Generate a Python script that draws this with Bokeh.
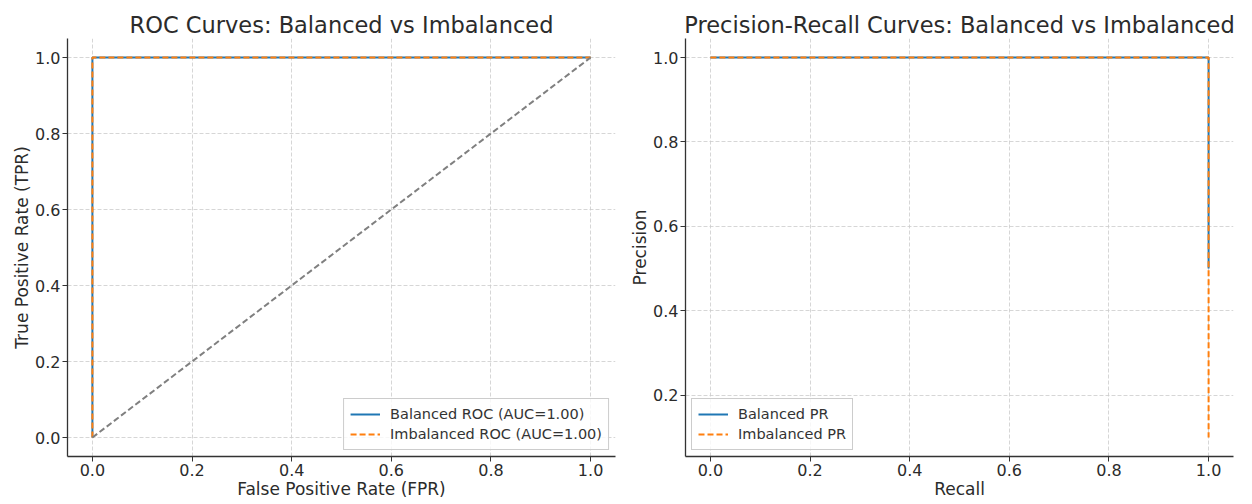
from bokeh.plotting import figure
from bokeh.layouts import row
from bokeh.models import FixedTicker, NumeralTickFormatter, Legend, LegendItem, Range1d
from bokeh.embed import file_html
from bokeh.resources import INLINE

# ROC data
roc_bal_fpr = [0.0, 0.0, 1.0]
roc_bal_tpr = [0.0, 1.0, 1.0]
roc_imb_fpr = [0.0, 0.0, 1.0]
roc_imb_tpr = [0.0, 1.0, 1.0]
diag_x = [0.0, 1.0]
diag_y = [0.0, 1.0]

# PR data
pr_bal_recall = [0.0, 1.0, 1.0]
pr_bal_precision = [1.0, 1.0, 0.5]
pr_imb_recall = [0.0, 1.0, 1.0]
pr_imb_precision = [1.0, 1.0, 0.1]

ticks_x = [0.0, 0.2, 0.4, 0.6, 0.8, 1.0]
ticks_y_roc = [0.0, 0.2, 0.4, 0.6, 0.8, 1.0]
ticks_y_pr = [0.2, 0.4, 0.6, 0.8, 1.0]

FONT = "DejaVu Sans"
BLUE = "#1f77b4"
ORANGE = "#ff7f0e"
TXT = "#2b2b2b"


def make_fig(title, xlabel, ylabel, yr, yticks, width, right_border):
    p = figure(width=width, height=501, output_backend="svg", toolbar_location=None,
               x_range=Range1d(-0.05, 1.05), y_range=Range1d(*yr),
               min_border_left=67, min_border_right=right_border,
               min_border_top=38, min_border_bottom=43)
    p.title.text = title
    p.title.align = "center"
    p.title.text_font = FONT
    p.title.text_font_size = "22.5px"
    p.title.text_font_style = "normal"
    p.title.text_color = TXT
    p.title.offset = 0
    p.title.standoff = 2
    p.title.text_line_height = 1.0
    p.outline_line_color = None
    for ax, lab, ticks in ((p.xaxis[0], xlabel, ticks_x), (p.yaxis[0], ylabel, yticks)):
        ax.ticker = FixedTicker(ticks=ticks)
        ax.formatter = NumeralTickFormatter(format="0.0")
        ax.axis_label = lab
        ax.axis_label_text_font = FONT
        ax.axis_label_text_font_size = "17px"
        ax.axis_label_text_font_style = "normal"
        ax.axis_label_text_color = TXT
        ax.axis_label_text_line_height = 1.0
        ax.axis_label_standoff = 0
        ax.major_label_text_font = FONT
        ax.major_label_text_font_size = "16px"
        ax.major_label_text_color = TXT
        ax.major_label_text_line_height = 1.0
        ax.major_label_standoff = 2
        ax.minor_tick_line_color = None
        ax.major_tick_out = 5
        ax.major_tick_in = 0
        ax.axis_line_color = "#333333"
        ax.axis_line_width = 1.3
        ax.major_tick_line_color = "#333333"
    for g in (p.xgrid[0], p.ygrid[0]):
        g.ticker = FixedTicker(ticks=ticks_x if g.dimension == 0 else yticks)
        g.grid_line_color = "#cccccc"
        g.grid_line_dash = "4 2"
        g.grid_line_width = 0.8
    return p


p1 = make_fig("ROC Curves: Balanced vs Imbalanced", "False Positive Rate (FPR)",
              "True Positive Rate (TPR)", (-0.05, 1.05), ticks_y_roc, 618, 3)
r1 = p1.line(roc_bal_fpr, roc_bal_tpr, line_color=BLUE, line_width=2)
r2 = p1.line(roc_imb_fpr, roc_imb_tpr, line_color=ORANGE, line_width=2, line_dash="6 3")
p1.line(diag_x, diag_y, line_color="gray", line_width=2, line_dash="6 3")

p2 = make_fig("Precision-Recall Curves: Balanced vs Imbalanced", "Recall",
              "Precision", (0.055, 1.045), ticks_y_pr, 626, 11)
r3 = p2.line(pr_bal_recall, pr_bal_precision, line_color=BLUE, line_width=2)
r4 = p2.line(pr_imb_recall, pr_imb_precision, line_color=ORANGE, line_width=2, line_dash="6 3")


def add_legend(p, items, loc):
    lg = Legend(items=[LegendItem(label=l, renderers=[r]) for l, r in items], location=loc)
    lg.label_text_font = FONT
    lg.label_text_font_size = "14.5px"
    lg.label_text_color = "#333333"
    lg.border_line_color = "#cccccc"
    lg.border_line_alpha = 1
    lg.background_fill_alpha = 0.8
    lg.glyph_width = 30
    lg.glyph_height = 18
    lg.label_height = 18
    lg.spacing = 2
    lg.padding = 6
    lg.margin = 6
    lg.label_standoff = 10
    p.add_layout(lg)


add_legend(p1, [("Balanced ROC (AUC=1.00)", r1), ("Imbalanced ROC (AUC=1.00)", r2)], "bottom_right")
add_legend(p2, [("Balanced PR", r3), ("Imbalanced PR", r4)], "bottom_left")

layout = row(p1, p2)
open("out.html", "w").write(file_html(layout, INLINE))
